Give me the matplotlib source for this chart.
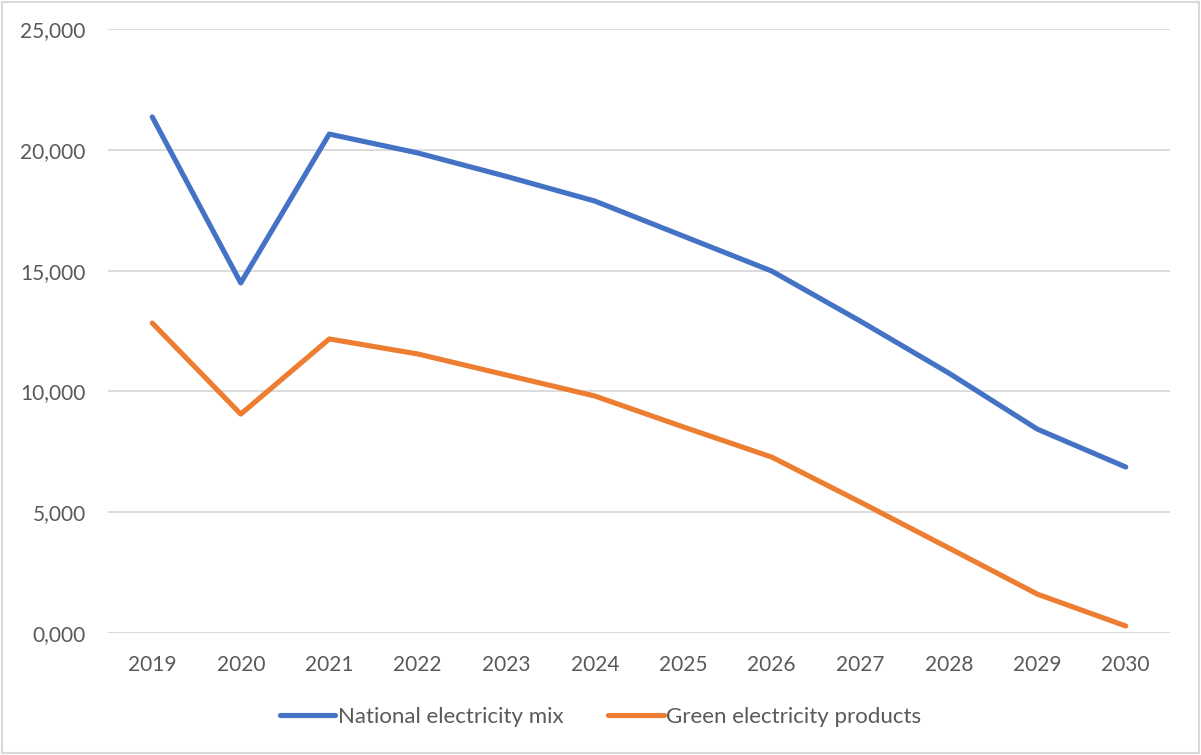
import matplotlib
matplotlib.use("Agg")
import matplotlib.pyplot as plt
from matplotlib.patches import Rectangle

years = ["2019", "2020", "2021", "2022", "2023", "2024",
         "2025", "2026", "2027", "2028", "2029", "2030"]
national_mix = [21.36, 14.49, 20.65, 19.87, 18.90, 17.88,
                16.43, 14.98, 12.91, 10.76, 8.44, 6.87]
green_products = [12.83, 9.06, 12.17, 11.55, 10.68, 9.81,
                  8.53, 7.28, 5.42, 3.52, 1.61, 0.29]
ytick_vals = [0, 5, 10, 15, 20, 25]
ytick_labels = ["0,000", "5,000", "10,000", "15,000", "20,000", "25,000"]

plt.rcParams['font.family'] = ['Lato', 'DejaVu Sans']
txt = '#595959'
grid = '#D9D9D9'

fig = plt.figure(figsize=(12.01, 7.55), dpi=100)
ax = fig.add_axes([108 / 1201, 1 - 633 / 755, (1170 - 108) / 1201, (633 - 29) / 755])

x = list(range(len(years)))
ax.plot(x, national_mix, color='#4472C4', lw=3.7, solid_capstyle='round',
        solid_joinstyle='round', label='National electricity mix')
ax.plot(x, green_products, color='#ED7D31', lw=3.7, solid_capstyle='round',
        solid_joinstyle='round', label='Green electricity products')

ax.set_xlim(-0.5, len(years) - 0.5)
ax.set_ylim(0, 25)
ax.set_xticks(x)
ax.set_xticklabels(years)
ax.set_yticks(ytick_vals)
ax.set_yticklabels(ytick_labels)
ax.tick_params(length=0, labelsize=15, colors=txt)
ax.tick_params(axis='x', pad=16)
ax.tick_params(axis='y', pad=16)
ax.yaxis.grid(True, color=grid, lw=1.3)
ax.set_axisbelow(True)
for s in ax.spines.values():
    s.set_visible(False)
ax.axhline(0, color=grid, lw=1.3, zorder=0)

leg = fig.legend(loc='center', bbox_to_anchor=(0.5, 1 - 717 / 755), ncol=2,
                 frameon=False, fontsize=16, handlelength=2.5, handletextpad=0.12,
                 columnspacing=2.0)
for t in leg.get_texts():
    t.set_color(txt)

fig.patches.append(Rectangle((0.002, 0.002), 0.996, 0.996, transform=fig.transFigure,
                             fill=False, edgecolor=grid, lw=1.5))

fig.savefig('out.png', dpi=100)
